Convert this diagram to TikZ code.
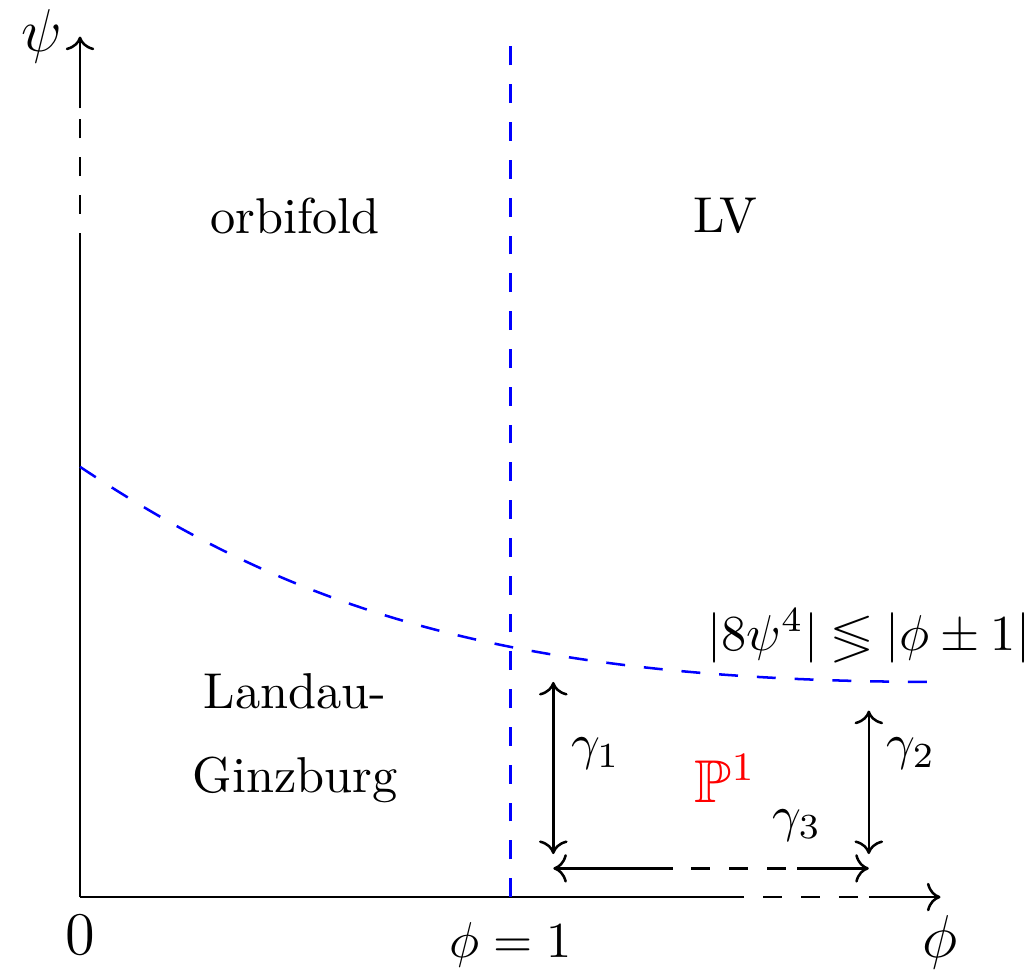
\documentclass[tikz,border=0pt]{standalone}
\usepackage{amsmath,amssymb}
\usetikzlibrary{arrows.meta,positioning}
\tikzset{
  gapdash/.style={dash pattern=on 3.75pt off 3.75pt},
  wall/.style={blue,gapdash},
  axislabel/.style={font=\large},
}

\begin{document}
\begin{tikzpicture}[line width=0.5pt]
  \useasboundingbox (-0.558,-0.502) rectangle (6.666,6.255);
  % axes, broken by a dashed piece
  \coordinate (O) at (0,0);
  \coordinate (xa) at (4.5,0);
  \coordinate (xb) at (5.5,0);
  \coordinate (xend) at (6,0);
  \coordinate (ya) at (0,4.5);
  \coordinate (yb) at (0,5.5);
  \coordinate (yend) at (0,6);
  \draw (O) -- (xa);
  \draw[gapdash] (xa) -- (xb);
  \draw[->] (xb) -- (xend);
  \draw (O) -- (ya);
  \draw[gapdash] (ya) -- (yb);
  \draw[->] (yb) -- (yend);
  \node[below,axislabel] (zero) at (O) {$0$};
  \node[below,axislabel] (phi) at (xend) {$\phi$};
  \node[left,axislabel] (psi) at (yend) {$\psi$};
  \node[below] (phione) at (3,-0.05) {$\phi=1$};
  % phase boundaries
  \coordinate (vbot) at (3,0);
  \coordinate (vtop) at (3,6);
  \coordinate (cstart) at (0,3);
  \coordinate (cend) at (6,1.5);
  \draw[wall] (vbot) -- (vtop);
  \draw[wall] (cstart) .. controls (1.5,2) and (3,1.5) .. (cend);
  \node (bound) at (5.5,1.82) {$|8\psi^4|\lessgtr|\phi\pm1|$};
  % phases
  \node (orb) at (1.5,4.75) {orbifold};
  \node (lv) at (4.5,4.75) {LV};
  \node[align=center] (lg) at (1.5,1.11) {Landau-\\[4.7pt]Ginzburg};
  \node[red,font=\large] (pone) at (4.5,0.83) {$\mathbb{P}^1$};
  % paths
  \coordinate (g1a) at (3.3,0.3);
  \coordinate (g1b) at (3.3,1.5);
  \coordinate (g2a) at (5.5,0.3);
  \coordinate (g2b) at (5.5,1.3);
  \coordinate (g3a) at (3.3,0.2);
  \coordinate (g3b) at (4,0.2);
  \coordinate (g3c) at (5,0.2);
  \coordinate (g3d) at (5.5,0.2);
  \draw[<->] (g1a) -- (g1b);
  \draw[<->] (g2a) -- (g2b);
  \draw[<-] (g3a) -- (g3b);
  \draw[gapdash] (g3b) -- (g3c);
  \draw[->] (g3c) -- (g3d);
  \node[right] (gone) at (3.3,1) {$\gamma_1$};
  \node[right] (gtwo) at (5.5,1) {$\gamma_2$};
  \node (gthree) at (5,0.5) {$\gamma_3$};
\end{tikzpicture}
\end{document}
